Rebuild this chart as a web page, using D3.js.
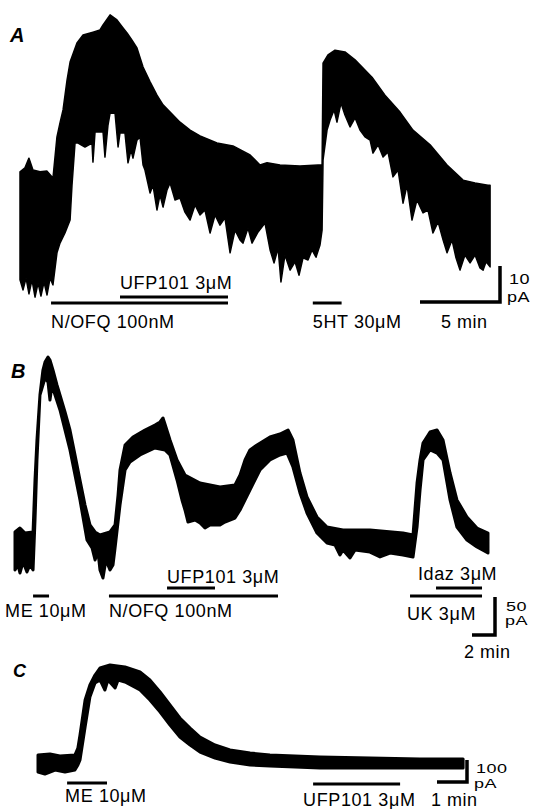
<!DOCTYPE html>
<html>
<head>
<meta charset="utf-8">
<script src="https://cdn.jsdelivr.net/npm/d3@7"></script>
<style>
  body { margin: 0; background: #fff; }
  svg text { font-family: "Liberation Sans", Arial, sans-serif; fill: #000; }
</style>
</head>
<body>
<div id="figure"></div>
<script>
const traceATop = [[0,35.6],[0.31,36.7],[0.56,39.4],[0.81,36.1],[1.25,35.6],[1.69,35.8],[2.06,33.9],[2.31,45.3],[2.5,49.2],[2.69,52.8],[2.94,61.1],[3.13,66.1],[3.56,71.4],[3.94,73.6],[4.56,74.4],[5.0,75],[5.19,76.4],[5.63,79.2],[6.06,77.8],[6.44,75.6],[6.69,74.2],[7.0,72.2],[7.31,70],[7.69,64.7],[8.13,60.6],[8.56,56.9],[8.94,54.2],[9.38,52.2],[10.0,49.4],[10.63,47.2],[11.25,45.6],[12.31,43.6],[13.31,42.8],[14.38,40.3],[15.0,37.5],[15.44,38.1],[16.25,37.5],[17.5,37.2],[18.63,37.5],[18.88,37.5],[18.94,65.8],[19.25,68.1],[19.69,69.4],[20.31,68.9],[20.94,66.7],[21.56,63.9],[22.0,61.9],[22.81,56.9],[23.75,52.2],[24.56,47.2],[25.63,43.1],[26.69,37.5],[27.69,33.3],[28.44,32.5],[29.25,31.9],[29.38,31.9]];
const traceABottom = [[0,5.6],[0.19,2.8],[0.38,6.1],[0.56,1.7],[0.75,5.6],[0.94,0.8],[1.13,4.7],[1.31,1.1],[1.5,5.0],[1.69,1.4],[1.88,6.1],[2.06,4.2],[2.31,13.1],[2.5,15.8],[2.81,18.6],[3.13,22.2],[3.25,31.9],[3.44,43.6],[3.63,43.6],[4.06,42.5],[4.5,43.6],[4.56,38.3],[4.69,46.7],[5.19,46.7],[5.31,39.7],[5.5,48.6],[5.63,51.9],[5.94,51.9],[6.13,42.5],[6.25,46.4],[6.56,46.4],[6.75,38.1],[6.94,41.7],[7.06,39.4],[7.31,44.4],[7.5,45.3],[7.69,37.5],[7.81,36.1],[8.13,29.7],[8.31,31.9],[8.56,25],[8.75,29.2],[8.94,25.8],[9.19,30.6],[9.38,32.5],[9.69,27.8],[10,28.3],[10.31,24.4],[10.63,22.2],[10.94,26.4],[11.25,23.6],[11.56,25],[11.88,18.6],[12.19,23.6],[12.5,20.8],[12.81,22.8],[13.13,13.1],[13.44,19.4],[13.75,16.7],[13.94,15.8],[14.25,20],[14.5,15.8],[14.88,18.9],[15.31,21.4],[15.63,13.9],[15.88,10.3],[16.13,14.4],[16.31,5],[16.56,12.5],[16.88,8.3],[17.19,10.6],[17.44,6.9],[17.69,11.7],[18,11.1],[18.25,13.9],[18.5,11.9],[18.75,15.3],[18.88,19.4],[18.94,38.9],[19.19,47.2],[19.38,50],[19.63,52.8],[19.81,49.4],[20.06,54.7],[20.31,51.4],[20.63,48.1],[20.94,50.6],[21.25,47.2],[21.56,45.3],[21.88,44.4],[22.06,40.8],[22.38,43.1],[22.69,39.7],[23,41.1],[23.31,34.2],[23.63,36.1],[23.94,26.9],[24.19,31.9],[24.5,22.2],[24.81,27.8],[25.19,24.2],[25.5,25],[25.81,18.6],[26.13,21.7],[26.44,16.7],[26.69,13.1],[27,16.7],[27.25,11.7],[27.5,8.3],[27.81,12.5],[28.13,10.3],[28.44,12.5],[28.75,8.9],[28.94,8.3],[29.13,10.6],[29.38,9.2]];

const traceBTop = [[0,63.2],[0.43,68.4],[0.87,61.8],[1.57,63.2],[1.74,131.6],[1.91,184.2],[2.17,243.4],[2.43,276.3],[2.61,286.8],[2.87,293.4],[3.04,289.5],[3.3,276.3],[3.65,256.6],[3.91,243.4],[4.35,221.1],[4.78,197.4],[5.22,164.5],[5.65,131.6],[6.09,98.7],[6.52,72.4],[6.96,63.2],[7.39,59.2],[8.26,63.2],[8.7,72.4],[8.96,111.8],[9.13,144.7],[9.57,177.6],[10.26,188.2],[11.3,197.4],[12.17,203.9],[12.61,207.9],[12.87,213.2],[13.04,205.3],[13.48,184.2],[14.09,157.9],[14.78,138.2],[16.09,127.6],[17.83,122.4],[19.13,125],[19.57,138.2],[20,157.9],[20.43,171.1],[21.04,177.6],[22.17,188.2],[23.04,192.1],[23.74,197.4],[24.17,184.2],[24.78,140.8],[25.39,109.2],[26.26,82.9],[27.13,69.7],[28.52,65.8],[30.87,65.8],[33.74,61.8],[34.61,59.2],[34.96,127.6],[35.22,157.9],[35.48,180.3],[36.09,194.7],[36.7,197.4],[37.22,184.2],[37.83,140.8],[38.43,105.3],[39.3,82.9],[40.17,68.4],[41.13,61.8]];
const traceBBottom = [[0,13.2],[0.26,19.7],[0.43,9.2],[0.7,23.7],[1.04,10.5],[1.3,19.7],[1.57,13.2],[1.74,78.9],[1.91,157.9],[2.17,243.4],[2.61,265.8],[2.87,260.5],[3.04,236.8],[3.22,256.6],[3.48,243.4],[3.91,223.7],[4.78,171.1],[5.65,105.3],[6.26,52.6],[6.7,42.1],[6.96,26.3],[7.22,36.8],[7.39,13.2],[7.65,2.6],[7.91,26.3],[8.26,13.2],[8.52,19.7],[8.7,42.1],[9.13,98.7],[9.57,144.7],[10,155.3],[10.87,164.5],[12.17,173.7],[13.04,171.1],[13.48,164.5],[14.09,131.6],[14.52,105.3],[14.78,92.1],[15.04,76.3],[15.65,78.9],[16.09,75],[16.52,68.4],[16.96,72.4],[17.83,72.4],[18.26,76.3],[19.13,81.6],[19.57,92.1],[20.43,118.4],[21.3,144.7],[22.17,157.9],[23.04,164.5],[23.65,167.1],[24.17,148.7],[24.78,114.5],[25.39,88.2],[26.26,61.8],[27.13,48.7],[27.83,46.1],[28.26,32.9],[28.52,39.5],[29.13,28.9],[29.57,39.5],[30.87,36.8],[31.74,30.3],[32.61,35.5],[33.74,32.9],[34.61,30.3],[34.96,69.7],[35.22,118.4],[35.48,157.9],[36.09,171.1],[36.7,167.1],[37.22,157.9],[37.83,105.3],[38.43,69.7],[39.3,52.6],[40.17,43.4],[41.13,35.5]];

const traceCTop = [[0,90.9],[0.4,95.5],[0.73,86.4],[1.23,90.9],[1.33,122.7],[1.4,181.8],[1.57,340.9],[1.73,409.1],[1.9,454.5],[2.07,486.4],[2.4,500],[2.9,490.9],[3.4,468.2],[3.73,431.8],[4.07,377.3],[4.4,318.2],[4.73,259.1],[5.07,213.6],[5.4,172.7],[5.9,136.4],[6.4,113.6],[7.07,100],[7.73,90.9],[9.4,81.8],[11.07,77.3],[12.73,72.7],[14.17,72.7]];
const traceCBottom = [[0,13.6],[0.23,4.5],[0.57,22.7],[0.9,13.6],[1.23,22.7],[1.33,45.5],[1.4,68.2],[1.57,218.2],[1.73,354.5],[1.9,418.2],[2.07,431.8],[2.23,386.4],[2.33,431.8],[2.57,395.5],[2.67,431.8],[2.9,422.7],[3.4,386.4],[3.73,340.9],[4.07,286.4],[4.4,227.3],[4.73,172.7],[5.07,136.4],[5.4,104.5],[5.9,77.3],[6.4,59.1],[7.07,45.5],[7.73,40.9],[9.4,31.8],[11.07,31.8],[12.73,31.8],[14.17,31.8]];

// Drug applications, start / end in min
const drugsA = [
  { label: "UFP101 3\u03bcM", on: 6.25, off: 13.0 },
  { label: "N/OFQ 100nM", on: 1.94, off: 13.0 },
  { label: "5HT 30\u03bcM", on: 18.3, off: 20.1 }
];
const drugsB = [
  { label: "ME 10\u03bcM", on: 1.57, off: 2.96 },
  { label: "N/OFQ 100nM", on: 8.17, off: 22.87 },
  { label: "UFP101 3\u03bcM", on: 13.22, off: 17.39 },
  { label: "Idaz 3\u03bcM", on: 36.61, off: 40.61 },
  { label: "UK 3\u03bcM", on: 34.35, off: 40.61 }
];
const drugsC = [
  { label: "ME 10\u03bcM", on: 0.97, off: 2.3 },
  { label: "UFP101 3\u03bcM", on: 9.17, off: 12.07 }
];

// scale bars: [min, pA]
const scaleBarA = [5, 10];
const scaleBarB = [2, 50];
const scaleBarC = [1, 100];

const W = 533, H = 809;

const svg = d3.select("#figure").append("svg")
  .attr("width", W)
  .attr("height", H);

svg.append("rect").attr("width", W).attr("height", H).attr("fill", "#fff");

function drawTrace(top, bottom, x, y, sw) {
  const pts = top.concat(bottom.slice().reverse());
  const line = d3.line()
    .x((d) => x(d[0]))
    .y((d) => y(d[1]));
  svg.append("path")
    .attr("d", line(pts) + "Z")
    .attr("fill", "#000")
    .attr("stroke", "#000")
    .attr("stroke-width", sw)
    .attr("stroke-linejoin", "round");
}

// bar layout: y of bar, label baseline, label x shift
function drawDrugs(drugs, x, layout) {
  drugs.forEach((d, i) => {
    const l = layout[i];
    svg.append("line")
      .attr("x1", x(d.on)).attr("x2", x(d.off))
      .attr("y1", l.bar).attr("y2", l.bar)
      .attr("stroke", "#000")
      .attr("stroke-width", 3);
    svg.append("text")
      .attr("x", x(d.on) + l.dx)
      .attr("y", l.text)
      .style("font-size", "18px")
      .style("letter-spacing", "0.6px")
      .text(d.label);
  });
}

function drawScaleBar(bar, x, y, corner, labels) {
  const [cx, cy] = corner;
  const dx = x(bar[0]) - x(0);
  const dy = y(0) - y(bar[1]);
  svg.append("path")
    .attr("d", `M${cx - dx},${cy} H${cx} V${cy - dy}`)
    .attr("fill", "none")
    .attr("stroke", "#000")
    .attr("stroke-width", 3.5)
    .attr("stroke-linejoin", "miter");
  labels.forEach((t) => {
    // the unit labels sit tight on top of each other in the scan
    const sy = t.squash || 1;
    svg.append("text")
      .attr("transform", `translate(${t.x},${t.y}) scale(1,${sy})`)
      .style("font-size", t.size || "18px")
      .style("letter-spacing", "0.5px")
      .text(t.text);
  });
}

function panelLetter(letter, px, py, size) {
  svg.append("text")
    .attr("x", px).attr("y", py)
    .style("font-size", size)
    .style("font-weight", "bold")
    .style("font-style", "italic")
    .text(letter);
}

// ---- Panel A
const xA = d3.scaleLinear().domain([0, 30]).range([20, 500]);
const yA = d3.scaleLinear().domain([0, 80]).range([300, 12]);
drawTrace(traceATop, traceABottom, xA, yA, 1.5);
drawDrugs(drugsA, xA, [
  { bar: 297, text: 289, dx: 0 },
  { bar: 303, text: 328, dx: 0 },
  { bar: 303, text: 328, dx: 0 }
]);
drawScaleBar(scaleBarA, xA, yA, [500, 302], [
  { text: "10", x: 509, y: 284, size: "18px", squash: 0.8 },
  { text: "pA", x: 507, y: 302, size: "18px", squash: 0.8 },
  { text: "5 min", x: 441, y: 328 }
]);
panelLetter("A", 10, 42, "20px");

// ---- Panel B
const xB = d3.scaleLinear().domain([0, 41]).range([15, 486.5]);
const yB = d3.scaleLinear().domain([0, 300]).range([580, 352]);
drawTrace(traceBTop, traceBBottom, xB, yB, 3);
drawDrugs(drugsB, xB, [
  { bar: 596, text: 617, dx: -28 },
  { bar: 596, text: 617, dx: 0 },
  { bar: 588, text: 583, dx: 0 },
  { bar: 588, text: 580, dx: -18 },
  { bar: 596, text: 620, dx: -3 }
]);
drawScaleBar(scaleBarB, xB, yB, [495, 635], [
  { text: "50", x: 506, y: 611, size: "18px", squash: 0.72 },
  { text: "pA", x: 505, y: 625, size: "18px", squash: 0.72 },
  { text: "2 min", x: 464, y: 658 }
]);
panelLetter("B", 11, 378, "20px");

// ---- Panel C
const xC = d3.scaleLinear().domain([0, 14]).range([38, 458]);
const yC = d3.scaleLinear().domain([0, 500]).range([775, 665]);
drawTrace(traceCTop, traceCBottom, xC, yC, 3);
drawDrugs(drugsC, xC, [
  { bar: 783, text: 802, dx: -2 },
  { bar: 784, text: 806, dx: -10 }
]);
drawScaleBar(scaleBarC, xC, yC, [467, 782], [
  { text: "100", x: 476, y: 773, size: "18px", squash: 0.72 },
  { text: "pA", x: 474, y: 788, size: "18px", squash: 0.72 },
  { text: "1 min", x: 431, y: 806 }
]);
panelLetter("C", 13, 677, "18px");
</script>
</body>
</html>
